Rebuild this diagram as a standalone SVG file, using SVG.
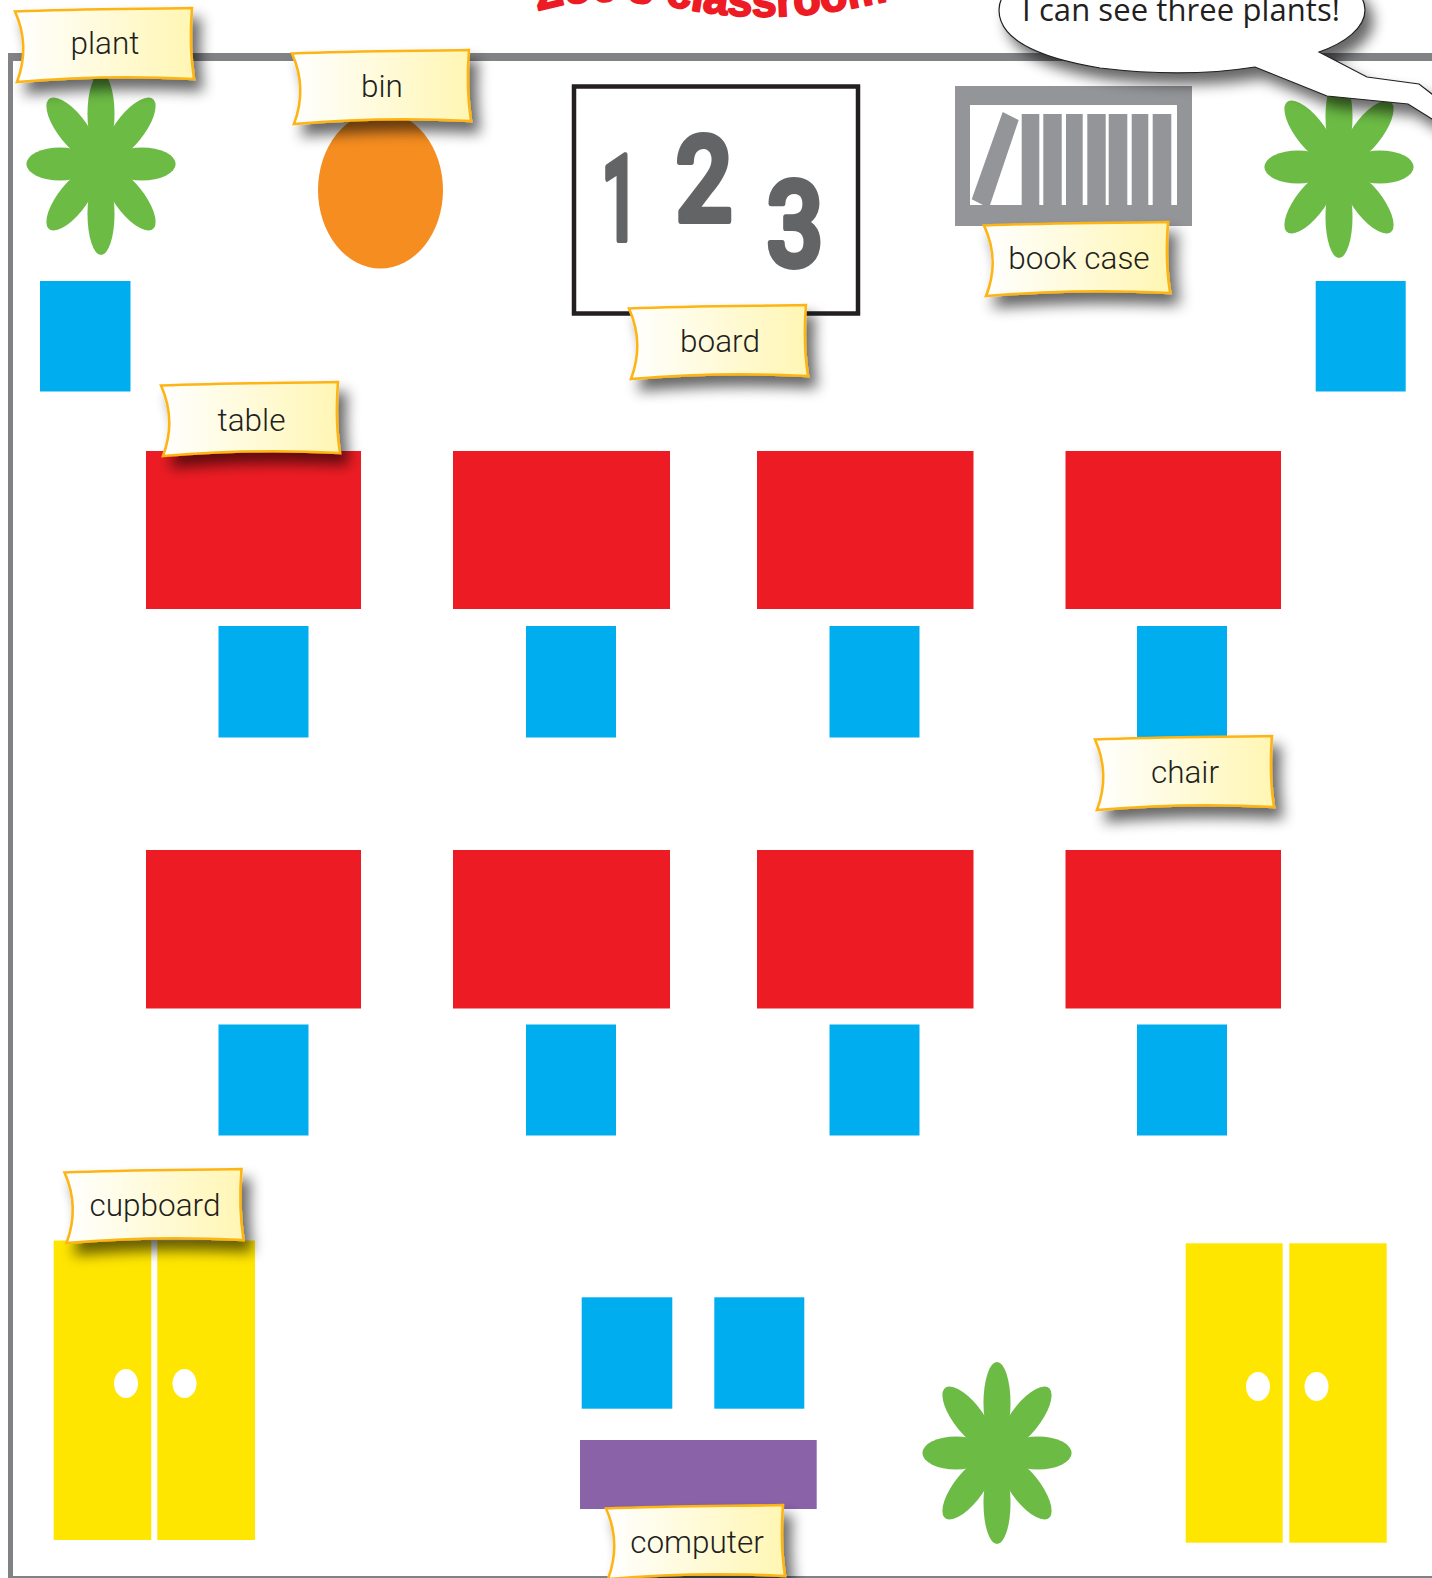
<svg xmlns="http://www.w3.org/2000/svg" xmlns:xlink="http://www.w3.org/1999/xlink" width="1432" height="1578" viewBox="0 0 1432 1578">
<style>
.chair{fill:#00aeef}
.table{fill:#ed1c24}
.door{fill:#ffe600}
.knob{fill:#fff}
.shelf{fill:#939598}
.label-text{font-family:Roboto,"Liberation Sans",Arial,sans-serif;font-weight:300;font-size:31.5px;fill:#231f20;text-anchor:middle}
.digit{font-family:Roboto,"Liberation Sans",Arial,sans-serif;font-weight:500;font-size:118px;text-anchor:middle;fill:#636466;stroke:#636466;stroke-width:6;stroke-linejoin:round}
</style>
<defs>
<linearGradient id="labelFill" x1="0" x2="1" y1="0" y2="0"><stop offset="0" stop-color="#ffffff"/><stop offset="1" stop-color="#fff6b3"/></linearGradient>
<filter id="shadow" x="-20%" y="-30%" width="150%" height="180%"><feGaussianBlur in="SourceAlpha" stdDeviation="7"/><feOffset dx="8" dy="11"/><feComponentTransfer><feFuncA type="linear" slope="0.6"/></feComponentTransfer><feMerge><feMergeNode/><feMergeNode in="SourceGraphic"/></feMerge></filter>
<path id="labelShape" d="M0 3.500C60 1 120 1 177 0C175 25 175 45 179 71C120 68 60 69 2 74C11 50 11 28 0 3.500Z" fill="url(#labelFill)" stroke="#fdb515" stroke-width="2.600" filter="url(#shadow)"/>
<g id="flower" fill="#6cbb45"><g transform="scale(0.82,1)">
<ellipse cy="-50" rx="16.500" ry="41"/><ellipse cy="-50" rx="16.500" ry="41" transform="rotate(45)"/><ellipse cy="-50" rx="16.500" ry="41" transform="rotate(90)"/><ellipse cy="-50" rx="16.500" ry="41" transform="rotate(135)"/><ellipse cy="-50" rx="16.500" ry="41" transform="rotate(180)"/><ellipse cy="-50" rx="16.500" ry="41" transform="rotate(225)"/><ellipse cy="-50" rx="16.500" ry="41" transform="rotate(270)"/><ellipse cy="-50" rx="16.500" ry="41" transform="rotate(315)"/>
<circle r="38"/></g></g>
<path id="titleCurve" d="M538 11C580 -2 630 -1 685 9S805 23 910 -5"/>
</defs>
<rect width="1432" height="1578" fill="#fff"/>
<g id="title"><text font-family="'Liberation Sans',Arial,sans-serif" font-weight="700" font-size="45" fill="#ed1c24" stroke="#ed1c24" stroke-width="2" stroke-linejoin="round"><textPath xlink:href="#titleCurve" href="#titleCurve">Zoe's classroom</textPath></text></g>
<path id="room" d="M8 53H1432V61H13V1576H1432V1578H8Z" fill="#808285"/>
<g id="plant-left"><use href="#flower" xlink:href="#flower" transform="translate(101,164)"/></g>
<g id="plant-right"><use href="#flower" xlink:href="#flower" transform="translate(1339,167)"/></g>
<g id="plant-bottom"><use href="#flower" xlink:href="#flower" transform="translate(997,1453)"/></g>
<g id="bin"><ellipse cx="380.500" cy="190" rx="62.500" ry="78.500" fill="#f58d20"/></g>
<g id="board"><rect x="574" y="86.500" width="284" height="227" fill="#fff" stroke="#231f20" stroke-width="4.500"/>
<text class="digit" transform="translate(620,240) scale(.55,1)">1</text>
<text class="digit" transform="translate(704,221) scale(.85,1)">2</text>
<text class="digit" transform="translate(795,266) scale(.85,1)">3</text></g>
<g id="bookcase">
<path class="shelf" fill-rule="evenodd" d="M955 86H1192V226H955ZM970 105V205H1177V105Z"/>
<rect class="shelf" x="1021.700" y="114" width="17.600" height="91"/><rect class="shelf" x="1043.300" y="114" width="18.400" height="91"/><rect class="shelf" x="1066" y="114" width="16.700" height="91"/><rect class="shelf" x="1087.300" y="114" width="18.400" height="91"/><rect class="shelf" x="1108.700" y="114" width="18.600" height="91"/><rect class="shelf" x="1131.700" y="114" width="16.600" height="91"/><rect class="shelf" x="1152.700" y="114" width="18.600" height="91"/>
<path class="shelf" d="M1002.700 112L1018.700 120L990 205H983L971.700 199.300Z"/></g>
<g id="chairs">
<rect class="chair" x="40" y="281" width="90.500" height="110.500"/><rect class="chair" x="1315.700" y="281" width="90" height="110.500"/>
<rect class="chair" x="218.500" y="626" width="90" height="111.500"/><rect class="chair" x="526" y="626" width="90" height="111.500"/><rect class="chair" x="829.500" y="626" width="90" height="111.500"/><rect class="chair" x="1137" y="626" width="90" height="111.500"/>
<rect class="chair" x="218.500" y="1024.500" width="90" height="111"/><rect class="chair" x="526" y="1024.500" width="90" height="111"/><rect class="chair" x="829.500" y="1024.500" width="90" height="111"/><rect class="chair" x="1137" y="1024.500" width="90" height="111"/>
<rect class="chair" x="581.700" y="1297.300" width="90.600" height="111.400"/><rect class="chair" x="714.300" y="1297.300" width="90" height="111.400"/></g>
<g id="tables">
<rect class="table" x="146" y="451" width="215" height="158"/><rect class="table" x="453" y="451" width="217" height="158"/><rect class="table" x="757" y="451" width="216.500" height="158"/><rect class="table" x="1065.500" y="451" width="215.500" height="158"/>
<rect class="table" x="146" y="850" width="215" height="158.500"/><rect class="table" x="453" y="850" width="217" height="158.500"/><rect class="table" x="757" y="850" width="216.500" height="158.500"/><rect class="table" x="1065.500" y="850" width="215.500" height="158.500"/></g>
<g id="computer"><rect x="580" y="1440" width="236.700" height="69" fill="#8a62a8"/></g>
<g id="cupboard-left"><rect class="door" x="53.700" y="1240.500" width="97.600" height="299.500"/><rect class="door" x="157.300" y="1240.500" width="97.700" height="299.500"/><ellipse class="knob" cx="126" cy="1383.500" rx="12" ry="14.500"/><ellipse class="knob" cx="184.500" cy="1383.500" rx="12" ry="14.500"/></g>
<g id="cupboard-right"><rect class="door" x="1185.700" y="1243.300" width="97" height="299.400"/><rect class="door" x="1289.300" y="1243.300" width="97.400" height="299.400"/><ellipse class="knob" cx="1258" cy="1386.500" rx="12" ry="14.500"/><ellipse class="knob" cx="1316.500" cy="1386.500" rx="12" ry="14.500"/></g>
<g id="speech-bubble"><path d="M1319 52L1367 77L1419 84L1450 108L1440 124L1408 104L1327 96L1255 67C1205 75 1150 74 1100 68C1040 58 999 40 999 10C999 -20 1050 -50 1182 -50C1310 -50 1365 -20 1365 10C1365 28 1345 43 1319 52Z" fill="#fff" stroke="#231f20" stroke-width="1.200" filter="url(#shadow)"/>
<text x="1022" y="21" font-family="'Open Sans','DejaVu Sans',sans-serif" font-weight="400" font-size="31" fill="#231f20" textLength="318" lengthAdjust="spacing">I can see three plants!</text></g>
<g id="label-plant"><use href="#labelShape" xlink:href="#labelShape" transform="translate(15,8)"/><text class="label-text" x="105" y="54">plant</text></g>
<g id="label-bin"><use href="#labelShape" xlink:href="#labelShape" transform="translate(292,50)"/><text class="label-text" x="382" y="97">bin</text></g>
<g id="label-board"><use href="#labelShape" xlink:href="#labelShape" transform="translate(629,305)"/><text class="label-text" x="720" y="352">board</text></g>
<g id="label-bookcase"><use href="#labelShape" xlink:href="#labelShape" transform="translate(984,222) scale(1.040,1)"/><text class="label-text" x="1079" y="269">book case</text></g>
<g id="label-table"><use href="#labelShape" xlink:href="#labelShape" transform="translate(161,382)"/><text class="label-text" x="251.500" y="431">table</text></g>
<g id="label-chair"><use href="#labelShape" xlink:href="#labelShape" transform="translate(1095,736)"/><text class="label-text" x="1185" y="783">chair</text></g>
<g id="label-cupboard"><use href="#labelShape" xlink:href="#labelShape" transform="translate(64.500,1169)"/><text class="label-text" x="155" y="1216">cupboard</text></g>
<g id="label-computer"><use href="#labelShape" xlink:href="#labelShape" transform="translate(606,1505)"/><text class="label-text" x="697" y="1553">computer</text></g>
</svg>
